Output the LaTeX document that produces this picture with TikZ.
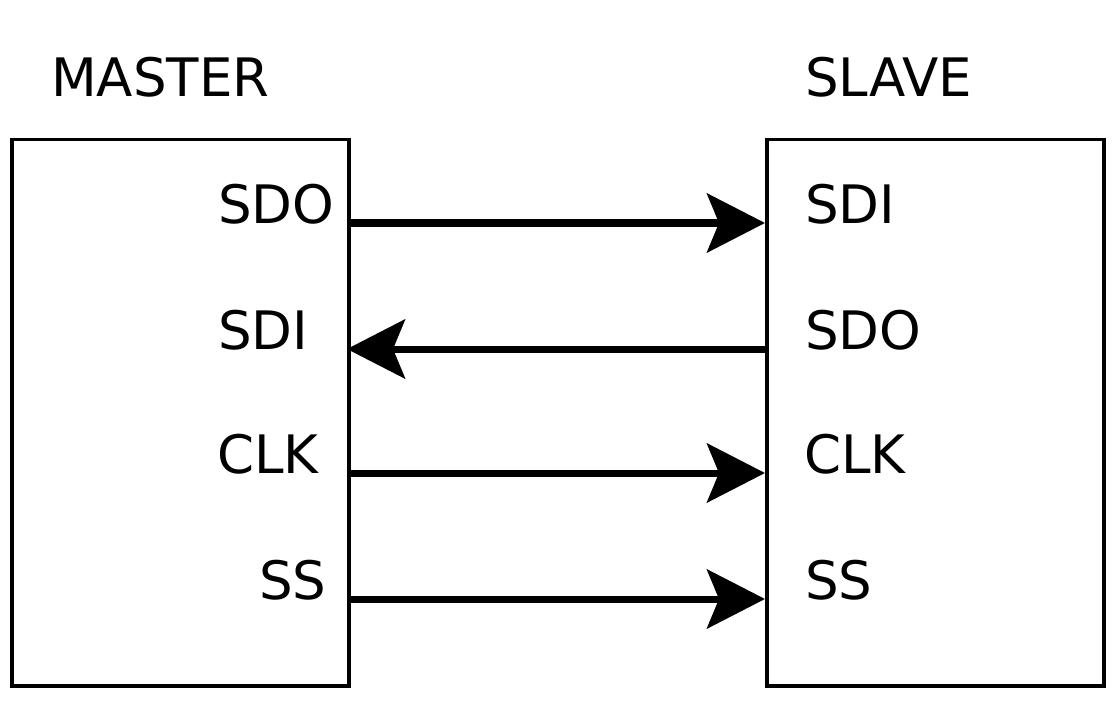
\documentclass[tikz,border=0pt]{standalone}
\usepackage{fontspec}
\setmainfont{DejaVu Sans}
\usetikzlibrary{arrows.meta}

\begin{document}
\begin{tikzpicture}[x=1pt,y=-1pt,font=\fontsize{53}{64}\selectfont,
  box/.style={draw,line width=3.5pt,minimum width=337pt,minimum height=546pt,inner sep=0pt,anchor=north west},
  pin/.style={inner sep=0pt,anchor=base west},
  wire/.style={-{Stealth[length=58pt,width=59pt,inset=12pt]},line width=7pt}]
  \useasboundingbox (0,0) rectangle (1120,706);

  \node[box]	(M) at (10,138)		{};
  \node[box]	(S) at (765,138)	{};
  \node[pin]	(Mt) at (51,97)		{MASTER};
  \node[pin]	(St) at (805,97)	{SLAVE};

  % master side
  \node[pin]	(Msdo) at (218,223)	{SDO};
  \node[pin]	(Msdi) at (218,349)	{SDI};
  \node[pin]	(Mclk) at (217,473)	{CLK};
  \node[pin]	(Mss)  at (259,599)	{SS};
  % slave side
  \node[pin]	(Ssdi) at (805,223)	{SDI};
  \node[pin]	(Ssdo) at (805,349)	{SDO};
  \node[pin]	(Sclk) at (804,473)	{CLK};
  \node[pin]	(Sss)  at (805,599)	{SS};

  \coordinate	(m1) at (347,223);
  \coordinate	(m2) at (347,349);
  \coordinate	(m3) at (347,473);
  \coordinate	(m4) at (347,599);
  \coordinate	(s1) at (765,223);
  \coordinate	(s2) at (765,349);
  \coordinate	(s3) at (765,473);
  \coordinate	(s4) at (765,599);

  \path[wire]	(m1) edge (s1)
		(s2) edge (m2)
		(m3) edge (s3)
		(m4) edge (s4);
\end{tikzpicture}
\end{document}
